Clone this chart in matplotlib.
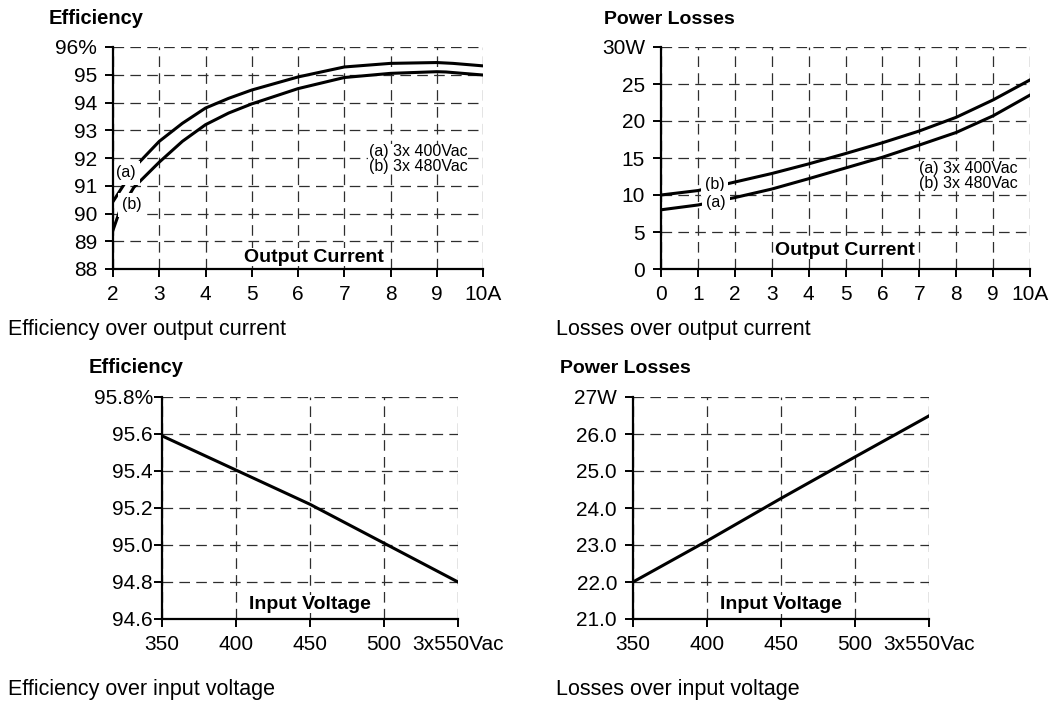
import matplotlib
matplotlib.use('Agg')
import matplotlib.pyplot as plt

plt.rcParams['font.family'] = ['Liberation Sans', 'DejaVu Sans']

# efficiency over output current
cur_a = [2, 2.22, 2.53, 3, 3.5, 4, 4.5, 5, 6, 7, 8, 9, 9.35, 10]
eff_a = [90.43, 91.0, 91.78, 92.6, 93.25, 93.8, 94.15, 94.45, 94.92, 95.28, 95.41, 95.44, 95.41, 95.32]
cur_b = [2, 2.14, 2.45, 3, 3.5, 4, 4.5, 5, 6, 7, 8, 9, 9.2, 10]
eff_b = [89.40, 90.07, 90.94, 91.85, 92.6, 93.2, 93.62, 93.95, 94.5, 94.9, 95.05, 95.11, 95.10, 94.99]

# losses over output current
cur_loss = [0, 1, 2, 3, 4, 5, 6, 7, 8, 9, 10]
loss_a = [8.0, 8.65, 9.65, 10.8, 12.2, 13.65, 15.1, 16.75, 18.45, 20.7, 23.5]
loss_b = [10.0, 10.6, 11.75, 12.9, 14.2, 15.6, 17.06, 18.65, 20.5, 22.85, 25.55]

# over input voltage
vin = [350, 400, 450, 500, 550]
eff_vin = [95.59, 95.405, 95.22, 95.01, 94.80]
loss_vin = [22.0, 23.11, 24.26, 25.38, 26.49]

# tick labels
eff_cur_xt = [2, 3, 4, 5, 6, 7, 8, 9, 10]
eff_cur_xl = ['2', '3', '4', '5', '6', '7', '8', '9', '10A']
eff_cur_yt = [88, 89, 90, 91, 92, 93, 94, 95, 96]
eff_cur_yl = ['88', '89', '90', '91', '92', '93', '94', '95', '96%']
loss_cur_xt = [0, 1, 2, 3, 4, 5, 6, 7, 8, 9, 10]
loss_cur_xl = ['0', '1', '2', '3', '4', '5', '6', '7', '8', '9', '10A']
loss_cur_yt = [0, 5, 10, 15, 20, 25, 30]
loss_cur_yl = ['0', '5', '10', '15', '20', '25', '30W']
vin_xt = [350, 400, 450, 500, 550]
vin_xl = ['350', '400', '450', '500', '3x550Vac']
eff_vin_yt = [94.6, 94.8, 95.0, 95.2, 95.4, 95.6, 95.8]
eff_vin_yl = ['94.6', '94.8', '95.0', '95.2', '95.4', '95.6', '95.8%']
loss_vin_yt = [21, 22, 23, 24, 25, 26, 27]
loss_vin_yl = ['21.0', '22.0', '23.0', '24.0', '25.0', '26.0', '27W']

W, H = 1054, 702
fig = plt.figure(figsize=(W / 100, H / 100), dpi=100)

def box(l, t, r, b):
    return [l / W, 1 - b / H, (r - l) / W, (b - t) / H]

def ftext(x, y, s, **kw):
    fig.text(x / W, 1 - y / H, s, va='baseline', ha='left', **kw)

white = dict(facecolor='white', edgecolor='none', pad=0.5)
# curve labels cut a gap in the line
gap = dict(facecolor='white', edgecolor='none', pad=3)

def setup(ax, xt, xl, yt, yl, ypad):
    ax.set_xlim(xt[0], xt[-1])
    ax.set_ylim(yt[0], yt[-1])
    ax.set_xticks(xt)
    ax.set_xticklabels(xl)
    ax.set_yticks(yt)
    ax.set_yticklabels(yl)
    for s in ['top', 'right']:
        ax.spines[s].set_visible(False)
    for s in ['left', 'bottom']:
        ax.spines[s].set_linewidth(1.6)
        ax.spines[s].set_zorder(3)
    ax.tick_params(direction='out', length=5.5, width=1.4, labelsize=15)
    ax.tick_params(axis='y', pad=ypad)
    ax.tick_params(axis='x', pad=6)
    ax.grid(True, color='#2e2e2e', linewidth=0.9, linestyle=(0, (8.5, 5)))
    ax.set_axisbelow(True)

# top left
ax1 = fig.add_axes(box(113, 47, 483, 269))
setup(ax1, eff_cur_xt, eff_cur_xl, eff_cur_yt, eff_cur_yl, 6)
ax1.plot(cur_a, eff_a, color='black', lw=2.2, zorder=2)
ax1.plot(cur_b, eff_b, color='black', lw=2.2, zorder=2)
ax1.text(2.28, 91.46, '(a)', fontsize=11.5, ha='center', va='center', bbox=gap, zorder=2.5)
ax1.text(2.40, 90.31, '(b)', fontsize=11.5, ha='center', va='center', bbox=gap, zorder=2.5)
ax1.text(7.53, 91.96, '(a) 3x 400Vac\n(b) 3x 480Vac', fontsize=11.5, ha='left', va='center',
         linespacing=0.95, bbox=white, zorder=2.5)
ax1.text(6.34, 88.43, 'Output Current', fontsize=14, fontweight='bold', ha='center', va='center',
         bbox=white, zorder=2.5)

# top right
ax2 = fig.add_axes(box(661, 47, 1030, 269))
setup(ax2, loss_cur_xt, loss_cur_xl, loss_cur_yt, loss_cur_yl, 6)
ax2.plot(cur_loss, loss_a, color='black', lw=2.2, zorder=2)
ax2.plot(cur_loss, loss_b, color='black', lw=2.2, zorder=2)
ax2.text(1.45, 11.4, '(b)', fontsize=11.5, ha='center', va='center', bbox=gap, zorder=2.5)
ax2.text(1.48, 8.97, '(a)', fontsize=11.5, ha='center', va='center', bbox=gap, zorder=2.5)
ax2.text(6.99, 12.56, '(a) 3x 400Vac\n(b) 3x 480Vac', fontsize=11.5, ha='left', va='center',
         linespacing=0.95, bbox=white, zorder=2.5)
ax2.text(4.98, 2.55, 'Output Current', fontsize=14, fontweight='bold', ha='center', va='center',
         bbox=white, zorder=2.5)

# bottom left
ax3 = fig.add_axes(box(162, 397, 458, 619))
setup(ax3, vin_xt, vin_xl, eff_vin_yt, eff_vin_yl, 1)
ax3.plot(vin, eff_vin, color='black', lw=2.2, zorder=2)
ax3.text(450, 94.68, 'Input Voltage', fontsize=14, fontweight='bold', ha='center', va='center',
         bbox=white, zorder=2.5)

# bottom right
ax4 = fig.add_axes(box(633, 397, 929, 619))
setup(ax4, vin_xt, vin_xl, loss_vin_yt, loss_vin_yl, 6)
ax4.plot(vin, loss_vin, color='black', lw=2.2, zorder=2)
ax4.text(450, 21.39, 'Input Voltage', fontsize=14, fontweight='bold', ha='center', va='center',
         bbox=white, zorder=2.5)

# titles and captions
ftext(49, 24, 'Efficiency', fontsize=14.5, fontweight='bold')
ftext(604, 24, 'Power Losses', fontsize=14, fontweight='bold')
ftext(89, 373, 'Efficiency', fontsize=14.5, fontweight='bold')
ftext(560, 373, 'Power Losses', fontsize=14, fontweight='bold')
ftext(8, 335, 'Efficiency over output current', fontsize=15.5)
ftext(556, 335, 'Losses over output current', fontsize=15.5)
ftext(8, 695, 'Efficiency over input voltage', fontsize=15.5)
ftext(556, 695, 'Losses over input voltage', fontsize=15.5)

fig.savefig('out.png', dpi=100)
